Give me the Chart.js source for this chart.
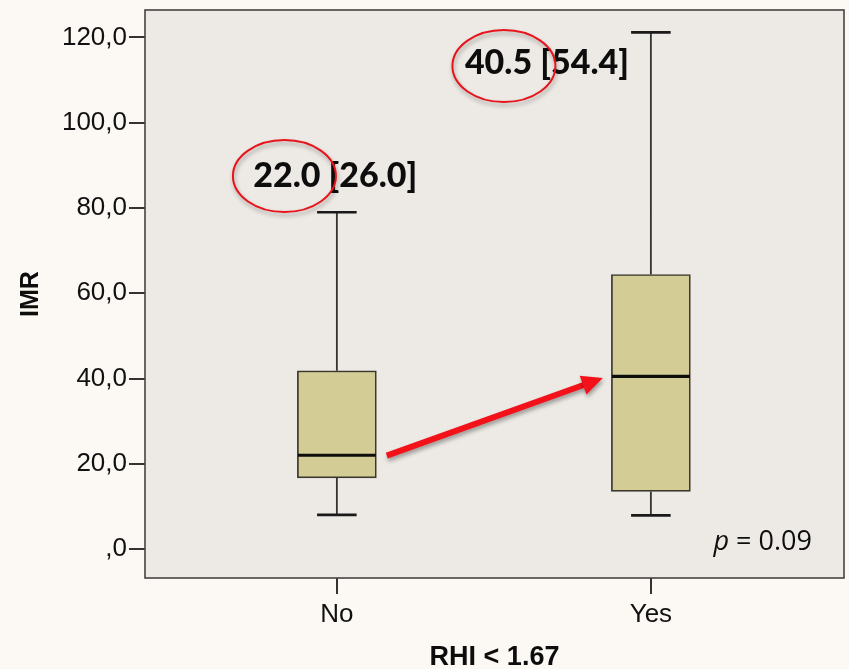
<!DOCTYPE html>
<html>
<head>
<meta charset="utf-8">
<script src="https://cdn.jsdelivr.net/npm/chart.js@4/dist/chart.umd.min.js"></script>
<style>
  html, body { margin: 0; padding: 0; background: #fcf8f4; }
  #wrap { width: 849px; height: 669px; }
</style>
</head>
<body>
<div id="wrap"><canvas id="imrChart" width="849" height="669"></canvas></div>
<script>
// Boxplot IMR per kelompok RHI < 1.67
const categories = ['No', 'Yes'];
const lowWhisker = [8.0, 7.9];
const lowerQuartile = [16.7, 13.5];
const medians = [22.0, 40.5];
const upperQuartile = [41.8, 64.4];
const highWhisker = [79.0, 121.2];

const yTicks = [0, 20, 40, 60, 80, 100, 120];
const yTickLabels = [',0', '20,0', '40,0', '60,0', '80,0', '100,0', '120,0'];

// catatan median [IQR] di atas tiap box
const noteTexts = ['22.0 [26.0]', '40.5 [54.4]'];
const noteX = [-0.005, 0.669];
const noteY = [87.5, 114.0];
const circleX = [-0.167, 0.532];
const circleY = [87.5, 113.3];

// panah merah dari median No ke median Yes
const arrowStart = { x: 0.159, y: 21.9 };
const arrowEnd = { x: 0.847, y: 40.1 };

const pValueText = '0.09';

const FONT = "'Liberation Sans', Arial, sans-serif";

// titik-titik garis whisker dan median, dibangun dari array di atas
const whiskerPoints = [];
const capPoints = [];
const medianPoints = [];
categories.forEach((c, i) => {
    whiskerPoints.push({ x: i, y: lowWhisker[i] }, { x: i, y: lowerQuartile[i] }, { x: i, y: null });
    whiskerPoints.push({ x: i, y: upperQuartile[i] }, { x: i, y: highWhisker[i] }, { x: i, y: null });
    capPoints.push({ x: i - 0.063, y: lowWhisker[i] }, { x: i + 0.063, y: lowWhisker[i] }, { x: i, y: null });
    capPoints.push({ x: i - 0.063, y: highWhisker[i] }, { x: i + 0.063, y: highWhisker[i] }, { x: i, y: null });
    medianPoints.push({ x: i - 0.124, y: medians[i] }, { x: i + 0.124, y: medians[i] }, { x: i, y: null });
});

const plotPlugin = {
    id: 'plotDecor',
    beforeDraw(chart) {
        const { ctx, chartArea: a } = chart;
        ctx.save();
        ctx.fillStyle = '#fcf8f4';
        ctx.fillRect(0, 0, chart.width, chart.height);
        ctx.fillStyle = '#edeae5';
        ctx.fillRect(a.left, a.top, a.right - a.left, a.bottom - a.top);
        ctx.restore();
    },
    afterDatasetsDraw(chart) {
        const { ctx, chartArea: a, scales: { x, y } } = chart;
        ctx.save();

        // teks catatan
        ctx.fillStyle = '#0d0d0d';
        ctx.font = "900 34px Lato, 'Open Sans', sans-serif";
        ctx.textAlign = 'center';
        ctx.textBaseline = 'middle';
        noteTexts.forEach((t, i) => {
            ctx.fillText(t, x.getPixelForValue(noteX[i]), y.getPixelForValue(noteY[i]));
        });

        // elips merah dengan bayangan
        ctx.shadowColor = 'rgba(0,0,0,0.35)';
        ctx.shadowBlur = 4;
        ctx.shadowOffsetX = 1;
        ctx.shadowOffsetY = 3;
        ctx.strokeStyle = '#e8141b';
        ctx.lineWidth = 2;
        circleX.forEach((cx, i) => {
            ctx.beginPath();
            ctx.ellipse(x.getPixelForValue(cx), y.getPixelForValue(circleY[i]), 51.5, 36, 0, 0, Math.PI * 2);
            ctx.stroke();
        });

        // panah
        const x0 = x.getPixelForValue(arrowStart.x), y0 = y.getPixelForValue(arrowStart.y);
        const x1 = x.getPixelForValue(arrowEnd.x), y1 = y.getPixelForValue(arrowEnd.y);
        const ang = Math.atan2(y1 - y0, x1 - x0);
        const headLen = 21, headW = 10;
        const bx = x1 - headLen * Math.cos(ang), by = y1 - headLen * Math.sin(ang);
        ctx.fillStyle = '#f4121a';
        ctx.strokeStyle = '#f4121a';
        ctx.lineWidth = 6;
        ctx.lineCap = 'butt';
        ctx.beginPath();
        ctx.moveTo(x0, y0);
        ctx.lineTo(bx + 2 * Math.cos(ang), by + 2 * Math.sin(ang));
        ctx.stroke();
        ctx.beginPath();
        ctx.moveTo(x1, y1);
        ctx.lineTo(bx + headW * Math.sin(ang), by - headW * Math.cos(ang));
        ctx.lineTo(bx - headW * Math.sin(ang), by + headW * Math.cos(ang));
        ctx.closePath();
        ctx.fill();
        ctx.restore();

        // p-value
        ctx.save();
        ctx.fillStyle = '#0d0d0d';
        ctx.textBaseline = 'middle';
        ctx.textAlign = 'left';
        const px = x.getPixelForValue(1.513), py = y.getPixelForValue(1.6);
        ctx.font = "27px 'Open Sans', sans-serif";
        const rest = ' = ' + pValueText;
        const wRest = ctx.measureText(rest).width;
        ctx.fillText(rest, px - wRest, py);
        ctx.font = "italic 27px 'Open Sans', sans-serif";
        const wp = ctx.measureText('p').width;
        ctx.fillText('p', px - wRest - wp, py);

        // bingkai area plot
        ctx.strokeStyle = '#444';
        ctx.lineWidth = 1.6;
        ctx.strokeRect(a.left, a.top, a.right - a.left, a.bottom - a.top);
        ctx.restore();
    }
};

new Chart(document.getElementById('imrChart'), {
    type: 'bar',
    data: {
        datasets: [
            {
                type: 'bar',
                data: categories.map((c, i) => ({ x: i, y: [lowerQuartile[i], upperQuartile[i]] })),
                backgroundColor: '#d4cc95',
                borderColor: '#3a372e',
                borderWidth: 1.7,
                borderSkipped: false,
                barThickness: 79,
                order: 3
            },
            {
                type: 'line',
                data: whiskerPoints,
                borderColor: '#333',
                borderWidth: 1.8,
                pointRadius: 0,
                spanGaps: false,
                order: 2
            },
            {
                type: 'line',
                data: capPoints,
                borderColor: '#1a1a1a',
                borderWidth: 2.6,
                pointRadius: 0,
                spanGaps: false,
                order: 1
            },
            {
                type: 'line',
                data: medianPoints,
                borderColor: '#0d0d0d',
                borderWidth: 3.2,
                pointRadius: 0,
                spanGaps: false,
                order: 0
            }
        ]
    },
    options: {
        responsive: false,
        animation: false,
        layout: { padding: { top: 10, right: 5, left: 0, bottom: 0 } },
        plugins: { legend: { display: false }, tooltip: { enabled: false } },
        scales: {
            x: {
                type: 'linear',
                min: -0.611,
                max: 1.615,
                offset: false,
                afterBuildTicks: (scale) => { scale.ticks = categories.map((c, i) => ({ value: i })); },
                afterFit: (scale) => { scale.height = 91; scale.paddingLeft = 0; scale.paddingRight = 0; },
                grid: { offset: false, drawOnChartArea: false, tickLength: 16, color: '#333', lineWidth: 2 },
                border: { display: false },
                ticks: {
                    autoSkip: false,
                    maxRotation: 0,
                    padding: 5,
                    color: '#111',
                    font: { family: FONT, size: 26 },
                    callback: (v) => categories[v]
                },
                title: {
                    display: true,
                    text: 'RHI < 1.67',
                    color: '#0d0d0d',
                    font: { family: FONT, size: 27, weight: 'bold', lineHeight: 1 },
                    padding: { top: 0, bottom: -2 }
                }
            },
            y: {
                min: -6.8,
                max: 126.45,
                afterBuildTicks: (scale) => { scale.ticks = yTicks.map(v => ({ value: v })); },
                afterFit: (scale) => { scale.width = 145; scale.paddingTop = 0; scale.paddingBottom = 0; },
                grid: { drawOnChartArea: false, tickLength: 16, color: '#333', lineWidth: 2 },
                border: { display: false },
                ticks: {
                    padding: 2,
                    color: '#111',
                    font: { family: FONT, size: 26 },
                    callback: (v) => yTickLabels[yTicks.indexOf(v)]
                },
                title: {
                    display: true,
                    text: 'IMR',
                    color: '#0d0d0d',
                    font: { family: FONT, size: 25, weight: 'bold', lineHeight: 1.2 },
                    padding: { top: 16, bottom: 0 }
                }
            }
        }
    },
    plugins: [plotPlugin]
});
</script>
</body>
</html>
